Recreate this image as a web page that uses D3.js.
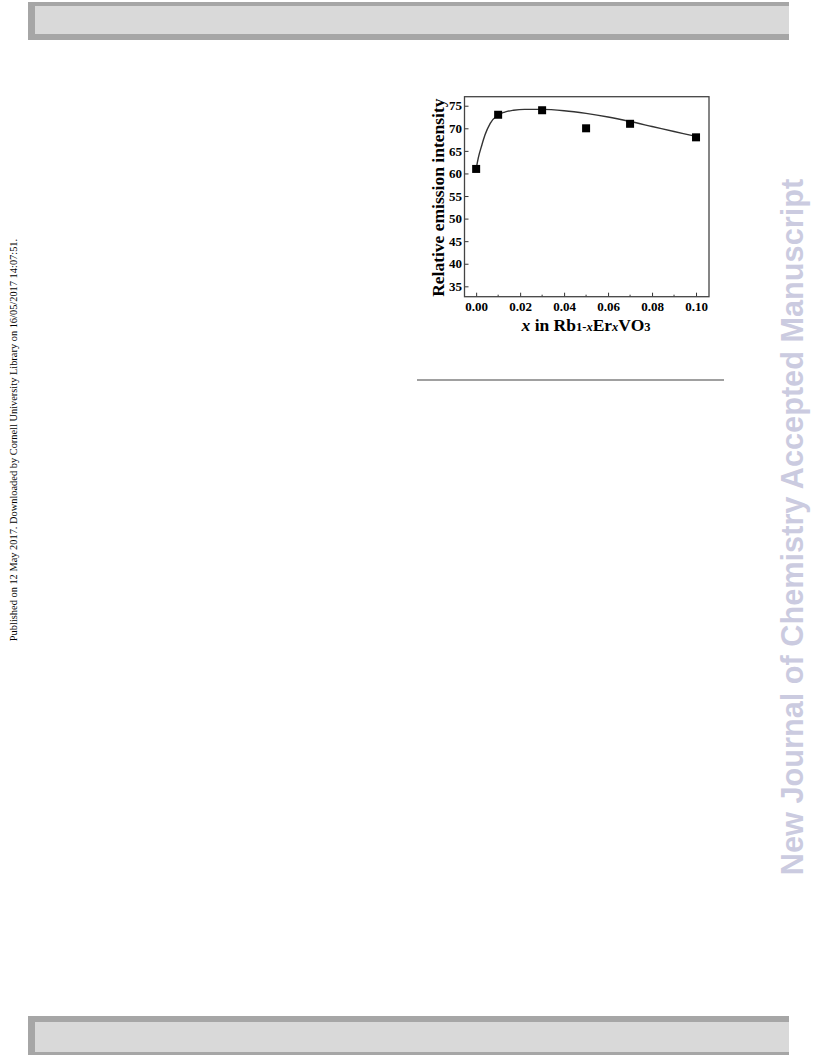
<!DOCTYPE html>
<html><head><meta charset="utf-8">
<script src="https://cdn.jsdelivr.net/npm/d3@7"></script>
<style>html,body{margin:0;padding:0;background:#fff;}svg{display:block;}</style>
</head><body>
<script>
// Data
const xValues = [0.00, 0.01, 0.03, 0.05, 0.07, 0.10];
const intensity = [61, 73, 74, 70, 71, 68];
const fitX = [0, 0.001, 0.0026, 0.004, 0.0064, 0.0098, 0.013, 0.017, 0.022, 0.03, 0.04, 0.05, 0.06, 0.07, 0.08, 0.09, 0.10];
const fitY = [61, 63.5, 66.3, 68.5, 71.1, 72.9, 73.6, 74.0, 74.2, 74.2, 73.9, 73.3, 72.5, 71.5, 70.4, 69.3, 68.2];
const xTicks = [0.00, 0.02, 0.04, 0.06, 0.08, 0.10];
const yTicks = [35, 40, 45, 50, 55, 60, 65, 70, 75];

const W = 816, H = 1056;
const svg = d3.select("body").append("svg").attr("width", W).attr("height", H);

// Page decorations
function bar(y0, y1, yi0, yi1) {
  svg.append("rect").attr("x", 28).attr("y", y0).attr("width", 761).attr("height", y1 - y0).attr("fill", "#a6a6a6");
  svg.append("rect").attr("x", 35).attr("y", yi0).attr("width", 754).attr("height", yi1 - yi0).attr("fill", "#d9d9d9");
}
bar(2, 40, 6, 34);
bar(1016, 1055, 1022, 1052);

svg.append("text")
  .attr("transform", "translate(17,440) rotate(-90)")
  .attr("text-anchor", "middle")
  .attr("font-family", "Liberation Serif, Times New Roman, serif")
  .attr("font-size", 10.4)
  .attr("fill", "#000")
  .text("Published on 12 May 2017. Downloaded by Cornell University Library on 16/05/2017 14:07:51.");

svg.append("text")
  .attr("transform", "translate(803,527) rotate(-90)")
  .attr("text-anchor", "middle")
  .attr("font-family", "Liberation Sans, Arial, sans-serif")
  .attr("font-weight", "bold")
  .attr("font-size", 30.7)
  .attr("fill", "#cbcbe0")
  .text("New Journal of Chemistry Accepted Manuscript");

svg.append("line").attr("x1", 417).attr("x2", 724).attr("y1", 380).attr("y2", 380)
  .attr("stroke", "#a0a0a0").attr("stroke-width", 2);

// Chart
const L = 464.5, R = 709, T = 96.7, B = 296.7;
const x = d3.scaleLinear().domain([-0.0053, 0.1059]).range([L, R]);
const y = d3.scaleLinear().domain([32.7, 77.0]).range([B, T]);
const font = "Liberation Serif, Times New Roman, serif";
const g = svg.append("g");

// X axis (ticks inward)
const xAxis = g.append("g").attr("transform", `translate(0,${B})`)
  .call(d3.axisBottom(x).tickValues(xTicks).tickFormat(d3.format(".2f")).tickSizeInner(-4).tickSizeOuter(0).tickPadding(3));
xAxis.selectAll("text").attr("dy", "0.87em").attr("font-family", font).attr("font-weight", "bold").attr("font-size", 13).attr("fill", "#000");
xAxis.select(".domain").remove();
xAxis.selectAll(".tick line").attr("stroke", "#333");
const xMinor = [0.01, 0.03, 0.05, 0.07, 0.09];
g.selectAll(".xminor").data(xMinor).enter().append("line")
  .attr("x1", d => x(d)).attr("x2", d => x(d)).attr("y1", B).attr("y2", B - 2)
  .attr("stroke", "#333");

// Y axis
const yAxis = g.append("g").attr("transform", `translate(${L},0)`)
  .call(d3.axisLeft(y).tickValues(yTicks).tickSizeInner(-4).tickSizeOuter(0).tickPadding(2.5));
yAxis.selectAll("text").attr("font-family", font).attr("font-weight", "bold").attr("font-size", 13).attr("fill", "#000");
yAxis.select(".domain").remove();
yAxis.selectAll(".tick line").attr("stroke", "#333");

// Frame
g.append("rect").attr("x", L).attr("y", T).attr("width", R - L).attr("height", B - T)
  .attr("fill", "none").attr("stroke", "#444").attr("stroke-width", 1.3);

// Fit curve
const fit = fitX.map((d, i) => [d, fitY[i]]);
g.append("path").datum(fit)
  .attr("d", d3.line().x(d => x(d[0])).y(d => y(d[1])).curve(d3.curveMonotoneX))
  .attr("fill", "none").attr("stroke", "#333").attr("stroke-width", 1.4);

// Points
const pts = xValues.map((d, i) => [d, intensity[i]]);
const s = 8;
g.selectAll(".pt").data(pts).enter().append("rect")
  .attr("x", d => x(d[0]) - s / 2).attr("y", d => y(d[1]) - s / 2)
  .attr("width", s).attr("height", s).attr("fill", "#000");

// Axis titles
svg.append("text")
  .attr("transform", `translate(444,${(T + B) / 2 + 1}) rotate(-90)`)
  .attr("text-anchor", "middle")
  .attr("font-family", font).attr("font-weight", "bold").attr("font-size", 17.5)
  .text("Relative emission intensity");

const xt = svg.append("text")
  .attr("x", 586).attr("y", 331).attr("text-anchor", "middle")
  .attr("font-family", font).attr("font-weight", "bold").attr("font-size", 17.5);
xt.append("tspan").attr("font-style", "italic").text("x");
xt.append("tspan").text(" in Rb");
xt.append("tspan").attr("font-size", 12.5).text("1-");
xt.append("tspan").attr("font-size", 12.5).attr("font-style", "italic").text("x");
xt.append("tspan").text("Er");
xt.append("tspan").attr("font-size", 12.5).attr("font-style", "italic").text("x");
xt.append("tspan").text("VO");
xt.append("tspan").attr("font-size", 12.5).text("3");
</script>
</body></html>
